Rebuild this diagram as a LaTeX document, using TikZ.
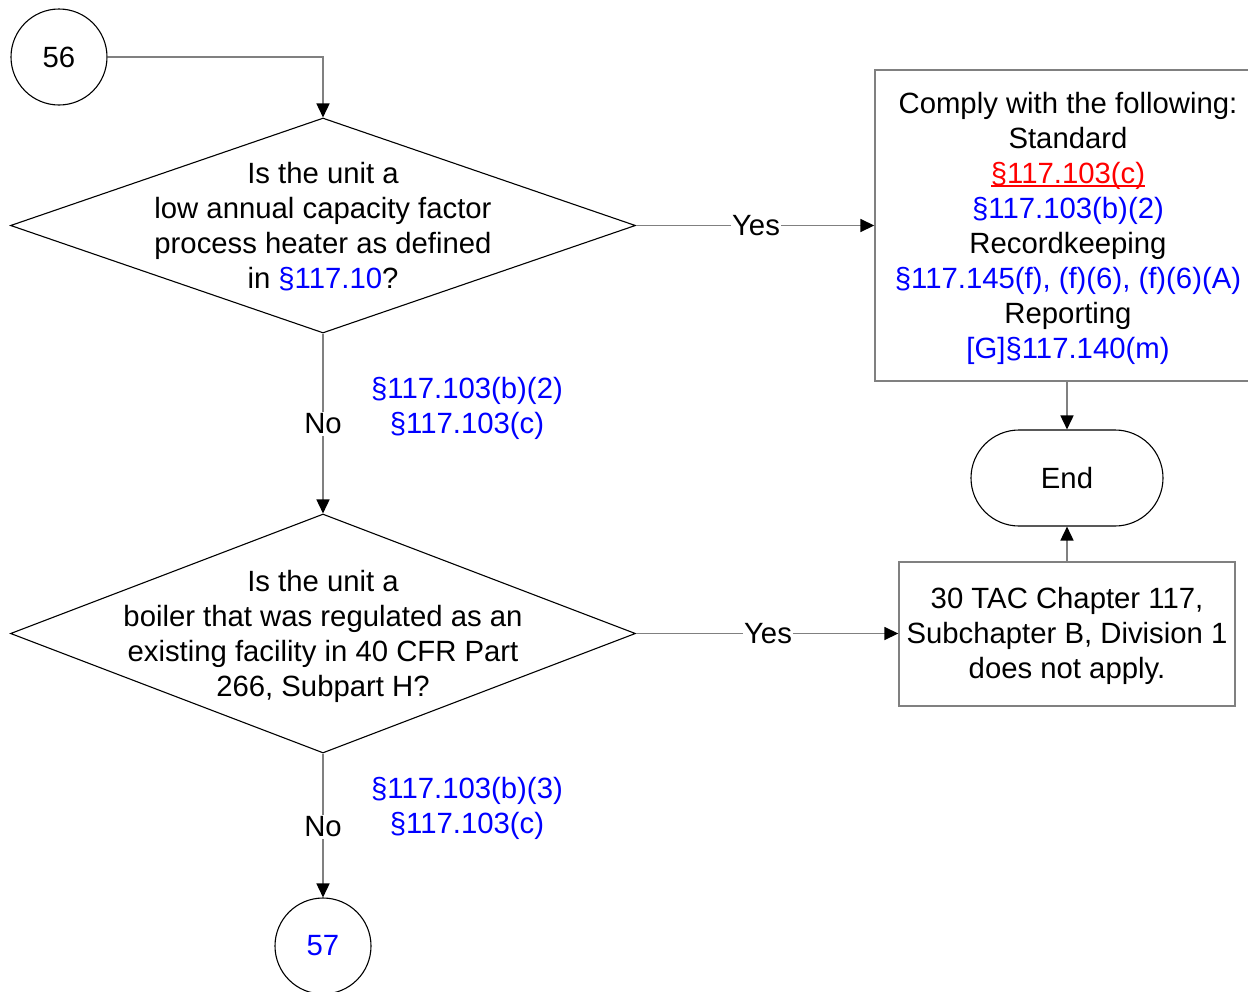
\documentclass[tikz,border=0pt]{standalone}
\usepackage{fontspec}
\setmainfont{Liberation Sans}
\usetikzlibrary{shapes.geometric,arrows.meta}
\definecolor{lk}{RGB}{0,0,255}
\definecolor{rd}{RGB}{255,0,0}
\definecolor{ln}{RGB}{128,128,128}
\newcommand\redul[1]{\setbox0\hbox{#1}\rlap{\rule[-4pt]{\wd0}{1.6pt}}\box0}
\begin{document}
\begin{tikzpicture}[x=1pt,y=-1pt,
  every node/.style={font=\fontsize{29.3}{35}\selectfont, align=center, inner sep=0pt},
  conn/.style={draw=ln, line width=1.6pt, -{Triangle[length=14pt,width=13pt,black]}},
  dia/.style={diamond, draw=black, line width=1.1pt, minimum width=625pt},
  boxst/.style={rectangle, draw=ln, line width=1.4pt},
  conn circ/.style={circle, draw=black, line width=1.1pt, minimum size=96pt},
  lbl/.style={fill=white, inner xsep=1pt, inner ysep=2pt},
  ref/.style={text=lk}
]
\useasboundingbox (0,0) rectangle (1248,991);
\clip (0,0) rectangle (1248,991);

% connector circles
\node[conn circ] (c56) at (59,57) {56};
\node[conn circ, text=lk] (c57) at (323,946) {57};

% decisions
\node[dia, minimum height=215pt] (d1) at (323,225.5) {};
\node (d1t) at (323,226.5) {Is the unit a\\low annual capacity factor\\process heater as defined\\in \textcolor{lk}{§117.10}?};

\node[dia, minimum height=239pt] (d2) at (323,633.5) {};
\node (d2t) at (323,636) {Is the unit a\\boiler that was regulated as an\\existing facility in 40 CFR Part\\266, Subpart H?};

% process boxes
\node[boxst, minimum width=386pt, minimum height=311pt] (b1) at (1068,225.5) {};
\node (b1t) at (1068,228) {Comply with the following:\\Standard\\\textcolor{rd}{\redul{§117.103(c)}}\\\textcolor{lk}{§117.103(b)(2)}\\Recordkeeping\\\textcolor{lk}{§117.145(f), (f)(6), (f)(6)(A)}\\Reporting\\\textcolor{lk}{[G]§117.140(m)}};

\node[boxst, minimum width=336pt, minimum height=144pt] (b2) at (1067,634) {};
\node (b2t) at (1067,636) {30 TAC Chapter 117,\\Subchapter B, Division 1\\does not apply.};

% terminator
\node[rectangle, draw=black, line width=1.1pt, rounded corners=48pt, minimum width=192pt, minimum height=96pt] (end) at (1067,478) {End};

% connectors
\draw[conn] (c56.east) -| (d1.north);
\draw[conn] (d1.east) -- (b1.west |- d1.east);
\node[lbl] (y1) at (756,226) {Yes};
\draw[conn] (d1.south) -- (d2.north);
\node[lbl] (n1) at (323,424) {No};
\node[ref] (r1) at (467,408) {§117.103(b)(2)\\§117.103(c)};

\draw[conn] (b1.south -| end.north) -- (end.north);
\draw[conn] (b2.north -| end.south) -- (end.south);

\draw[conn] (d2.east) -- (b2.west |- d2.east);
\node[lbl] (y2) at (768,634) {Yes};
\draw[conn] (d2.south) -- (c57.north);
\node[lbl] (n2) at (323,827) {No};
\node[ref] (r2) at (467,808) {§117.103(b)(3)\\§117.103(c)};
\end{tikzpicture}
\end{document}
